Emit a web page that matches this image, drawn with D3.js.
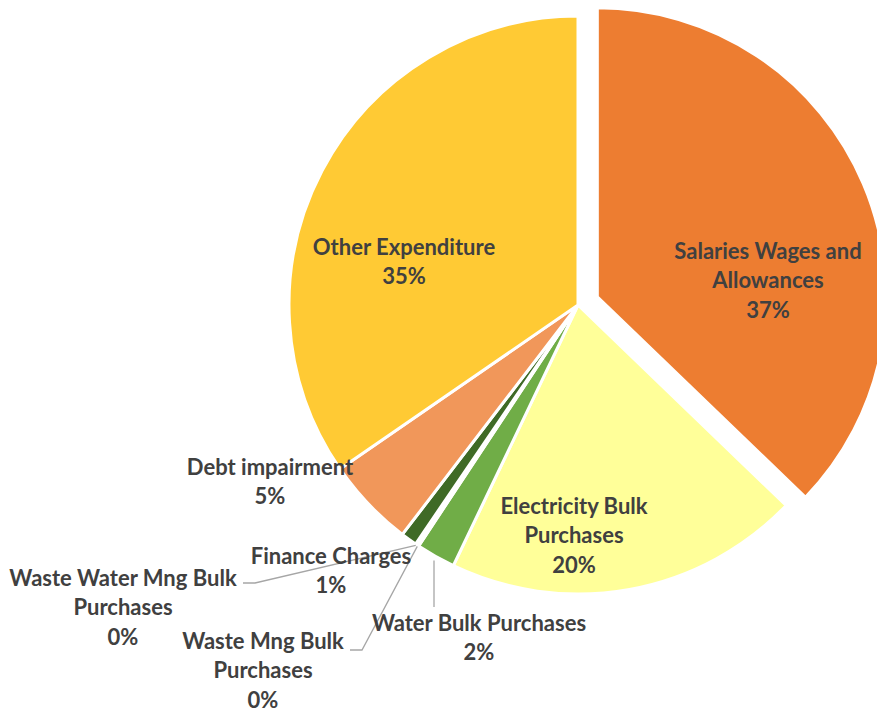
<!DOCTYPE html>
<html>
<head>
<meta charset="utf-8">
<script src="https://cdn.jsdelivr.net/npm/d3@7"></script>
<style>
  body { margin: 0; background: #fff; }
  svg { display: block; }
</style>
</head>
<body>
<div id="chart"></div>
<script>
// Data
var categories = ['Salaries Wages and Allowances', 'Electricity Bulk Purchases', 'Water Bulk Purchases',
  'Waste Mng Bulk Purchases', 'Waste Water Mng Bulk Purchases', 'Finance Charges', 'Debt impairment', 'Other Expenditure'];
var shares = [37.2, 19.9, 2.2, 0.1, 0.1, 0.9, 5.0, 34.6];
var pctLabels = ['37%', '20%', '2%', '0%', '0%', '1%', '5%', '35%'];
var colors = ['#ED7D31', '#FFFF99', '#70AD47', '#A5A5A5', '#5B9BD5', '#3F6A26', '#F1975A', '#FFCA34'];

// label text lines and where they sit (layout only)
var labelLines = [
  ['Salaries Wages and', 'Allowances'],
  ['Electricity Bulk', 'Purchases'],
  ['Water Bulk Purchases'],
  ['Waste Mng Bulk', 'Purchases'],
  ['Waste Water Mng Bulk', 'Purchases'],
  ['Finance Charges'],
  ['Debt impairment'],
  ['Other Expenditure']
];
var labelPos = [[768, 251], [574, 506], [479, 623], [263, 641], [123, 578], [331, 556], [270, 467], [404, 247]];
// leader lines: [text anchor point, elbow]
var leaders = {
  2: [[434, 607], [434, 607]],
  3: [[350, 650], [362, 650]],
  4: [[243, 583], [255, 583]]
};

var width = 877, height = 713;
var cx = 578, cy = 305, radius = 289;
var explode = 21;
var lineH = 29.5;

var svg = d3.select('#chart').append('svg')
  .attr('width', width)
  .attr('height', height);

var pie = d3.pie().sort(null).value(function(d) { return d; });
var arcs = pie(shares);
var arc = d3.arc().innerRadius(0).outerRadius(radius);

var g = svg.append('g').attr('transform', 'translate(' + cx + ',' + cy + ')');

g.selectAll('path')
  .data(arcs)
  .enter()
  .append('path')
  .attr('d', arc)
  .attr('fill', function(d, i) { return colors[i]; })
  .attr('stroke', '#fff')
  .attr('stroke-width', 3)
  .attr('transform', function(d, i) {
    if (i !== 0) return null;
    var a = (d.startAngle + d.endAngle) / 2;
    return 'translate(' + (Math.sin(a) * explode) + ',' + (-Math.cos(a) * explode) + ')';
  });

// Leader lines go to the outer edge of the slice
Object.keys(leaders).forEach(function(k) {
  var i = +k;
  var d = arcs[i];
  var a = (d.startAngle + d.endAngle) / 2;
  var ex = cx + Math.sin(a) * (radius + 1);
  var ey = cy - Math.cos(a) * (radius + 1);
  var pts = leaders[k].concat([[ex, ey]]);
  if (i === 2) pts = [[434, 607], [434, cy - Math.cos(a) * radius + 4]];
  svg.append('polyline')
    .attr('points', pts.map(function(p) { return p.join(','); }).join(' '))
    .attr('fill', 'none')
    .attr('stroke', '#A6A6A6')
    .attr('stroke-width', 1.3);
});

// Labels
categories.forEach(function(c, i) {
  var lines = labelLines[i].concat([pctLabels[i]]);
  var t = svg.append('text')
    .attr('text-anchor', 'middle')
    .style('font-family', 'Lato, "Open Sans", sans-serif')
    .style('font-weight', 'bold')
    .style('font-size', '22px')
    .attr('fill', '#404040');
  lines.forEach(function(l, j) {
    t.append('tspan')
      .attr('x', labelPos[i][0])
      .attr('y', labelPos[i][1] + j * lineH)
      .attr('dy', '0.35em')
      .text(l);
  });
});
</script>
</body>
</html>
